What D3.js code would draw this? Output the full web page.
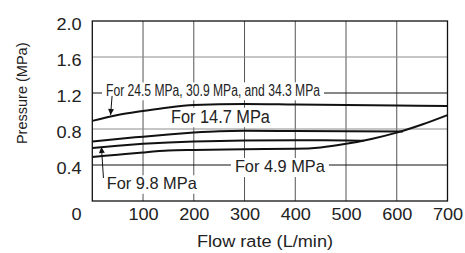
<!DOCTYPE html>
<html>
<head>
<meta charset="utf-8">
<script src="https://cdn.jsdelivr.net/npm/d3@7"></script>
<style>
  html, body { margin: 0; padding: 0; background: #fff; }
  svg { display: block; }
  text { font-family: "Liberation Sans", Arial, sans-serif; fill: #222; }
</style>
</head>
<body>
<script>
// Axis ticks
const flowTicks = [100, 200, 300, 400, 500, 600, 700];
const pressureTicks = [0.4, 0.8, 1.2, 1.6, 2.0];
const leaderRows = [0.4, 1.2]; // these grid rows double as label leaders (drawn dark)

// Curves: flow (L/min) -> pressure (MPa)
const flowHigh = [0, 50, 100, 150, 200, 300, 400, 500, 600, 700];
const presHigh = [0.89, 0.955, 1.0, 1.04, 1.066, 1.078, 1.072, 1.066, 1.06, 1.056];

const flow147 = [0, 50, 100, 150, 200, 250, 300, 400, 500, 612];
const pres147 = [0.66, 0.69, 0.715, 0.74, 0.76, 0.775, 0.78, 0.777, 0.774, 0.772];

const flow98 = [0, 50, 100, 150, 200, 300, 400, 500, 535];
const pres98 = [0.59, 0.615, 0.635, 0.65, 0.66, 0.672, 0.675, 0.672, 0.67];

const flow49 = [0, 50, 100, 150, 200, 300, 400, 450, 500, 550, 600, 650, 700];
const pres49 = [0.49, 0.515, 0.54, 0.56, 0.567, 0.575, 0.58, 0.595, 0.635, 0.69, 0.76, 0.85, 0.955];

const labels = ['For 24.5 MPa, 30.9 MPa, and 34.3 MPa', 'For 14.7 MPa', 'For 9.8 MPa', 'For 4.9 MPa'];

const W = 465, H = 253;
const stretch = 1.1; // the source art is a little wider than Arial

const svg = d3.select('body').append('svg')
    .attr('width', W)
    .attr('height', H);

const x = d3.scaleLinear().domain([0, 700]).range([92.3, 447.5]);
const y = d3.scaleLinear().domain([0, 2]).range([201, 21]);

// arrowhead marker
svg.append('defs').append('marker')
    .attr('id', 'head')
    .attr('markerUnits', 'userSpaceOnUse')
    .attr('viewBox', '0 0 10 10')
    .attr('refX', 10).attr('refY', 5)
    .attr('markerWidth', 9).attr('markerHeight', 6)
    .attr('orient', 'auto')
    .append('path')
    .attr('d', 'M0,0 L10,5 L0,10 Z')
    .attr('fill', '#111');

// grid
const grid = svg.append('g');
grid.selectAll('.vgrid')
    .data(flowTicks.slice(0, -1))
    .enter().append('line')
    .attr('class', 'vgrid')
    .attr('x1', d => x(d)).attr('x2', d => x(d))
    .attr('y1', y(0)).attr('y2', y(2))
    .attr('stroke', '#555')
    .attr('stroke-width', 1);

grid.selectAll('.hgrid')
    .data(pressureTicks.slice(0, -1))
    .enter().append('line')
    .attr('class', 'hgrid')
    .attr('x1', x(0)).attr('x2', x(700))
    .attr('y1', d => y(d)).attr('y2', d => y(d))
    .attr('stroke', d => leaderRows.includes(d) ? '#111' : '#8c8c8c')
    .attr('stroke-width', 1);

// axes (labels only)
const xAxis = svg.append('g')
    .attr('transform', `translate(0, ${y(0)})`)
    .call(d3.axisBottom(x).tickValues(flowTicks).tickSize(0).tickPadding(7.3));
const yAxis = svg.append('g')
    .attr('transform', `translate(${x(0)}, 0)`)
    .call(d3.axisLeft(y).tickValues(pressureTicks).tickSize(0)
        .tickFormat(d3.format('.1f')));
[xAxis, yAxis].forEach(g => {
    g.select('.domain').remove();
    g.selectAll('text')
        .style('font-family', '"Liberation Sans", Arial, sans-serif')
        .style('font-size', '16.5px')
        .attr('fill', '#222')
        .attr('transform', `scale(${stretch},1)`);
});
yAxis.selectAll('text')
    .attr('x', -10.6 / stretch)
    .attr('dy', '0.5em');

// shared origin label
svg.append('text')
    .attr('transform', `translate(${x(0) - 10.6}, ${y(0) + 19}) scale(${stretch},1)`)
    .attr('text-anchor', 'end')
    .style('font-size', '16.5px')
    .text('0');

// axis titles
svg.append('text')
    .attr('transform', `translate(265, 246.5) scale(${stretch},1)`)
    .attr('text-anchor', 'middle')
    .style('font-size', '16.5px')
    .text('Flow rate (L/min)');

svg.append('text')
    .attr('transform', 'translate(26.5, 93.3) rotate(-90)')
    .attr('text-anchor', 'middle')
    .style('font-size', '14.5px')
    .text('Pressure (MPa)');

// curve labels with white boxes over the grid
const labelSpots = [
    { text: labels[0], f: 27, p: 1.167, size: 16, len: 214 },
    { text: labels[1], f: 155, p: 0.872, size: 17.5, len: 99 },
    { text: labels[2], f: 28.5, p: 0.13, size: 16.5, len: 90 },
    { text: labels[3], f: 281, p: 0.317, size: 17, len: 90 }
];
const lab = svg.append('g');
labelSpots.forEach(d => {
    lab.append('rect')
        .attr('x', x(d.f) - 4)
        .attr('y', y(d.p) - d.size * 0.85)
        .attr('width', d.len + 8)
        .attr('height', d.size * 1.12)
        .attr('fill', '#fff');
    lab.append('text')
        .attr('x', x(d.f))
        .attr('y', y(d.p))
        .attr('textLength', d.len)
        .attr('lengthAdjust', 'spacingAndGlyphs')
        .style('font-size', d.size + 'px')
        .text(d.text);
});

// curves
const line = d3.line()
    .x(d => x(d[0]))
    .y(d => y(d[1]))
    .curve(d3.curveMonotoneX);

const series = [
    d3.zip(flowHigh, presHigh),
    d3.zip(flow147, pres147),
    d3.zip(flow98, pres98),
    d3.zip(flow49, pres49)
];
svg.append('g').selectAll('path')
    .data(series)
    .enter().append('path')
    .attr('d', line)
    .attr('fill', 'none')
    .attr('stroke', '#111')
    .attr('stroke-width', 2);

// pointer arrows
const arrows = [
    { from: [39, 1.167], to: [36, 0.955] },
    { from: [22, 0.256], to: [18, 0.60] }
];
svg.append('g').selectAll('line')
    .data(arrows)
    .enter().append('line')
    .attr('x1', d => x(d.from[0])).attr('y1', d => y(d.from[1]))
    .attr('x2', d => x(d.to[0])).attr('y2', d => y(d.to[1]))
    .attr('stroke', '#111')
    .attr('stroke-width', 1)
    .attr('marker-end', 'url(#head)');

// frame
svg.append('rect')
    .attr('x', x(0)).attr('y', y(2))
    .attr('width', x(700) - x(0))
    .attr('height', y(0) - y(2))
    .attr('fill', 'none')
    .attr('stroke', '#111')
    .attr('stroke-width', 1.3);
</script>
</body>
</html>
